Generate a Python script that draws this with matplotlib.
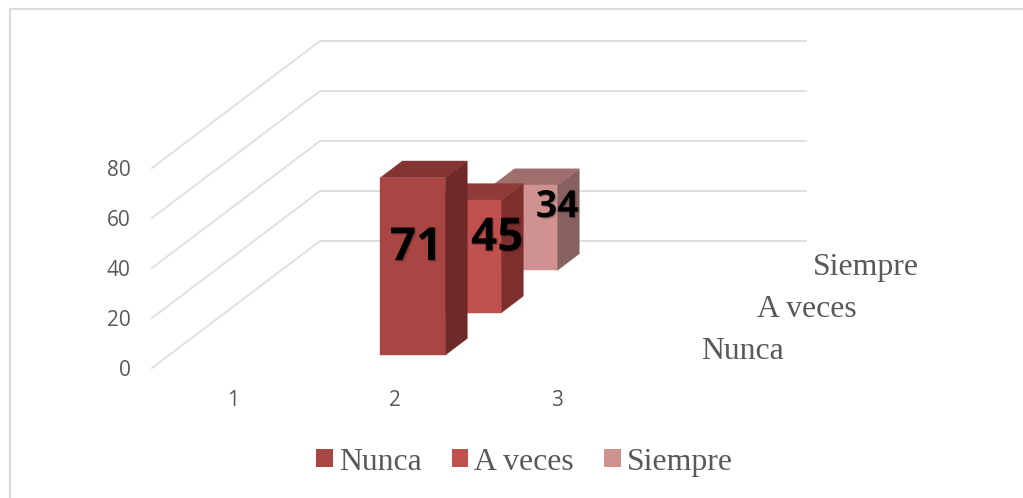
import matplotlib
matplotlib.use("Agg")
import matplotlib.pyplot as plt
from matplotlib.lines import Line2D
from matplotlib.patches import Patch, Polygon
import matplotlib.patheffects as pe

# chart values
categories = ["1", "2", "3"]
series_names = ["Nunca", "A veces", "Siempre"]
nunca = [None, 71, None]
a_veces = [None, 45, None]
siempre = [None, 34, None]
y_ticks = [0, 20, 40, 60, 80]

W, H = 1023, 498
fig = plt.figure(figsize=(W / 100, H / 100), dpi=100)
# frame only shows on the top and left
fig.add_artist(Line2D([10 / W, 10 / W, 1], [0, 1 - 9 / H, 1 - 9 / H], transform=fig.transFigure,
                      color="#dcdcdc", lw=1.6, solid_joinstyle="miter"))

# front floor of the chart: x 152-638 px, y 368-168 px
ax = fig.add_axes([152 / W, 1 - 368 / H, 486 / W, 200 / H])
ax.set_xlim(0, 3)
ax.set_ylim(0, 80)
for s in ax.spines.values():
    s.set_visible(False)
ax.patch.set_visible(False)

# oblique projection: depth 1 moves the point right and up
depth_x = 168 / 162
depth_y = 127 / 2.5


def proj(cat, val, depth):
    return cat + depth * depth_x, val + depth * depth_y


grey = "#595959"
ax.set_xticks([0.5, 1.5, 2.5], categories)
ax.set_yticks(y_ticks)
ax.tick_params(length=0, labelsize=15, labelcolor=grey)
ax.tick_params(axis="y", pad=15.5)
ax.tick_params(axis="x", pad=16)
for lab in ax.get_xticklabels() + ax.get_yticklabels():
    lab.set_fontfamily("Open Sans")

# walls
for v in y_ticks:
    a = proj(0, v, 0)
    b = proj(0, v, 1)
    c = proj(3, v, 1)
    ax.plot([a[0], b[0], c[0]], [a[1], b[1], c[1]], color="#e0e0e0", lw=1.4,
            clip_on=False, zorder=1, solid_joinstyle="miter")

bar_w = 0.4
bar_d = 0.131
series = [nunca, a_veces, siempre]
colors = [
    ("#a94543", "#6e2a28", "#843432"),
    ("#c0504d", "#7d2f2d", "#8f3b39"),
    ("#d09291", "#876160", "#9f6f6e"),
]
label_shift = [(3, 13.5), (21, 13.4), (24, 15)]
label_size = [33, 33, 27]
fam = ["Open Sans", "DejaVu Sans"]

for i in [2, 1, 0]:
    front, side, top = colors[i]
    d0 = (i + 0.5) / 3 - bar_d / 2
    d1 = d0 + bar_d
    z = 5 + (2 - i)
    for j, val in enumerate(series[i]):
        if val is None:
            continue
        x0 = j + 0.505 - bar_w / 2
        x1 = x0 + bar_w
        ax.add_patch(Polygon([proj(x1, 0, d0), proj(x1, 0, d1), proj(x1, val, d1), proj(x1, val, d0)],
                             fc=side, ec=side, lw=0.3, clip_on=False, zorder=z))
        ax.add_patch(Polygon([proj(x0, val, d0), proj(x1, val, d0), proj(x1, val, d1), proj(x0, val, d1)],
                             fc=top, ec=top, lw=0.3, clip_on=False, zorder=z))
        ax.add_patch(Polygon([proj(x0, 0, d0), proj(x1, 0, d0), proj(x1, val, d0), proj(x0, val, d0)],
                             fc=front, ec=front, lw=0.3, clip_on=False, zorder=z))
        dx, dy = label_shift[i]
        ax.annotate(str(val), proj(j + 0.5, val / 2, d0), xytext=(dx, dy), textcoords="offset points",
                    ha="center", va="center", fontsize=label_size[i], fontweight="bold",
                    family=fam, color="black", zorder=20,
                    path_effects=[pe.withSimplePatchShadow(offset=(1, -1), shadow_rgbFace="black", alpha=0.2)])

# depth axis labels
for i, name in enumerate(series_names):
    px, py = proj(3, 0, (i + 0.5) / 3)
    ax.annotate(name, (px, py), xytext=(25, -3.6), textcoords="offset points", ha="left", va="center",
                fontsize=22.9, family="Liberation Serif", color=grey, annotation_clip=False)

handles = [Patch(fc=colors[i][0], ec="none", label=series_names[i]) for i in range(3)]
fig.legend(handles=handles, loc="center", bbox_to_anchor=(524.5 / W, 1 - 462 / H), ncol=3, frameon=False,
           prop={"family": "Liberation Serif", "size": 22.9}, labelcolor=grey,
           handlelength=0.52, handleheight=0.52, handletextpad=0.19, columnspacing=0.95)

fig.savefig("out.png", dpi=100)
